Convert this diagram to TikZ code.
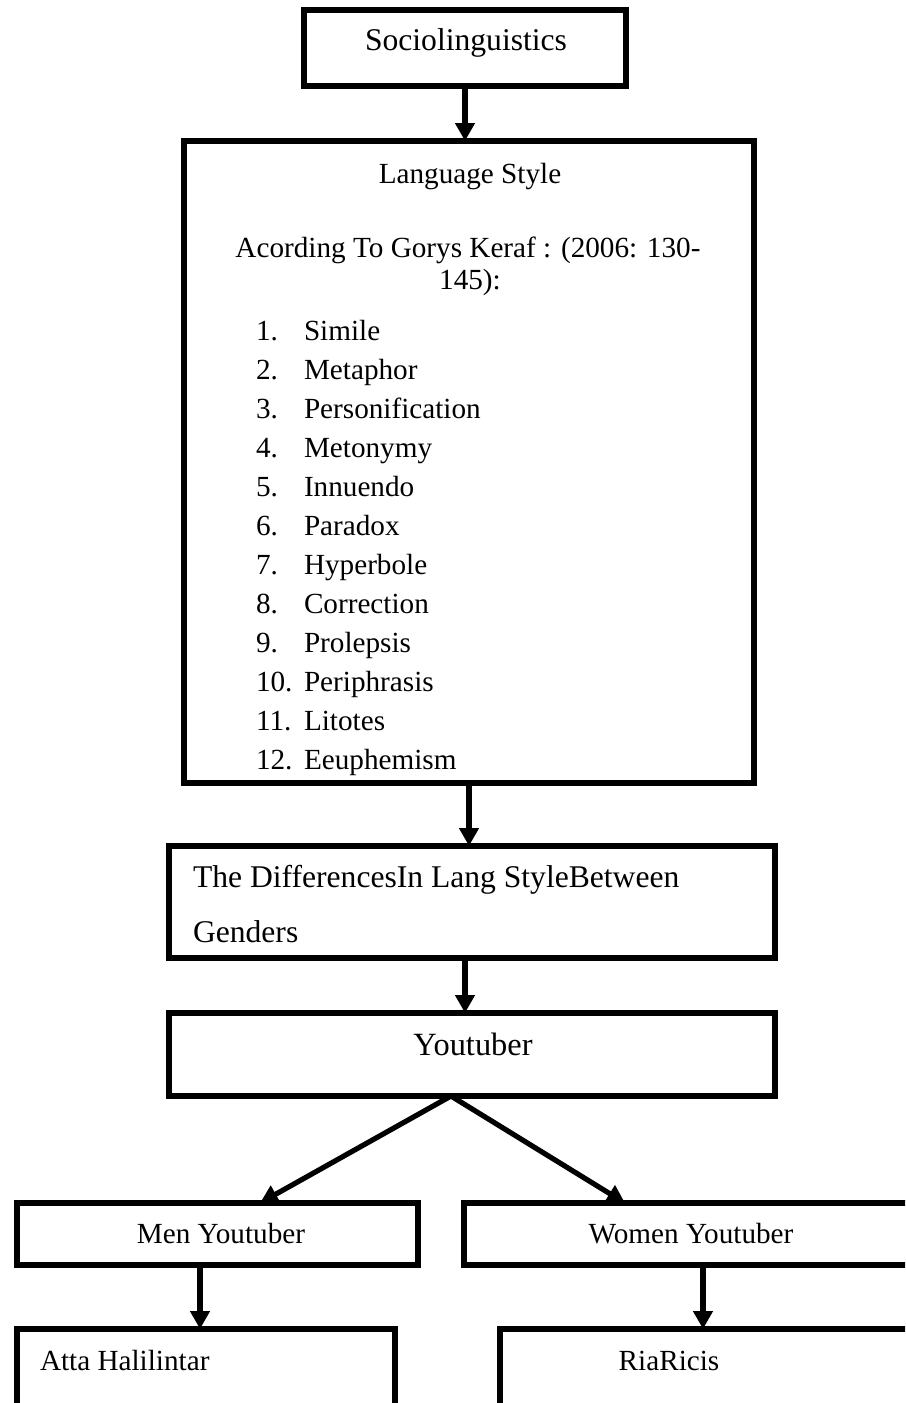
\documentclass[tikz,border=0pt]{standalone}
\usepackage{fontspec}
\setmainfont{Liberation Serif}
\usetikzlibrary{arrows.meta,calc}
\newcommand\pxu{0.5pt}
\begin{document}
\begin{tikzpicture}[x=0.5pt,y=-0.5pt,
  box/.style={draw,line width=2.8pt,inner sep=0pt,outer sep=0pt},
  txt/.style={inner sep=0pt,outer sep=0pt,text height=0.66em,text depth=0pt,yshift=-2pt,font={\fontsize{15.8pt}{19pt}\selectfont}},
  stxt/.style={txt,font={\fontsize{14.6pt}{18pt}\selectfont}},
  arr/.style={line width=3pt,-{Triangle[length=9pt,width=9.5pt]}},
  darr/.style={line width=2.6pt,-{Triangle[length=9pt,width=9.5pt]}}]
\useasboundingbox (0,0) rectangle (905,1403);
\clip (0,0) rectangle (905,1403);
% boxes
\node[box,minimum width=322*\pxu,minimum height=76*\pxu] (soc) at (465,48) {};
\node[box,minimum width=570*\pxu,minimum height=642*\pxu] (lang) at (469,462) {};
\node[box,minimum width=606*\pxu,minimum height=112*\pxu] (diff) at (472,902) {};
\node[box,minimum width=606*\pxu,minimum height=83*\pxu] (yt) at (472,1054.5) {};
\node[box,minimum width=401*\pxu,minimum height=62*\pxu] (men) at (217.5,1234) {};
\node[box,minimum width=466*\pxu,minimum height=62*\pxu] (women) at (697,1234) {};
\node[box,minimum width=378*\pxu,minimum height=121*\pxu] (atta) at (206,1389.5) {};
\node[box,minimum width=430*\pxu,minimum height=121*\pxu] (ria) at (715,1389.5) {};
% texts
\node[txt] (socT) at (466,40) {Sociolinguistics};
\node[stxt] (lsT) at (470,173) {Language Style};
\node[stxt] (acc1) at (468,247) {Acording To Gorys Keraf : (2006: 130-};
\node[stxt] (acc2) at (470,279) {145):};
\foreach \i/\w [count=\k from 0] in {1/Simile,2/Metaphor,3/Personification,4/Metonymy,5/Innuendo,6/Paradox,7/Hyperbole,8/Correction,9/Prolepsis,10/Periphrasis,11/Litotes,12/Eeuphemism}{
  \node[stxt,anchor=west] (n\i) at (256,{330+39*\k}) {\i.};
  \node[stxt,anchor=west] (t\i) at (304,{330+39*\k}) {\w};
}
\node[txt,anchor=west] (d1) at (193,877) {The DifferencesIn Lang StyleBetween};
\node[txt,anchor=west] (d2) at (193,932) {Genders};
\node[txt,font={\fontsize{16.2pt}{19pt}\selectfont}] (ytT) at (473,1045) {Youtuber};
\node[stxt] (menT) at (221,1233) {Men Youtuber};
\node[stxt] (womenT) at (691,1233) {Women Youtuber};
\node[stxt,anchor=west] (attaT) at (40,1360) {Atta Halilintar};
\node[stxt] (riaT) at (669,1360) {RiaRicis};
% connectors
\draw[arr] (soc.south) -- (soc.south |- lang.north);
\draw[arr] (lang.south) -- (lang.south |- diff.north);
\draw[arr] (diff.south -| soc.south) -- (yt.north -| soc.south);
\coordinate (apex) at ($(yt.south)+(-21,0)$);
\coordinate (mtip) at ($(men.north)+(42.5,0)$);
\coordinate (wtip) at ($(women.north)+(-72,0)$);
\draw[darr] (apex) -- (mtip);
\draw[darr] (apex) -- (wtip);
\coordinate (mdown) at ($(men.south)+(-17.5,0)$);
\coordinate (wdown) at ($(women.south)+(6,0)$);
\draw[arr] (mdown) -- (mdown |- atta.north);
\draw[arr] (wdown) -- (wdown |- ria.north);
\end{tikzpicture}
\end{document}
